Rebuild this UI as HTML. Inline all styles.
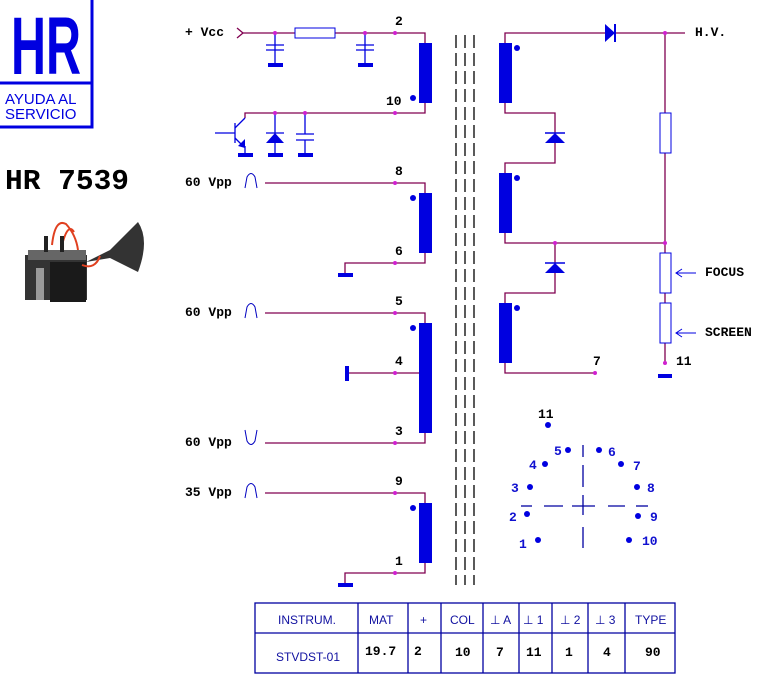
<!DOCTYPE html>
<html><head><style>
body{margin:0;background:#fff;width:766px;height:690px;overflow:hidden}
svg{display:block}
.w{stroke:#800050;stroke-width:1.3;fill:none}
.b{fill:#0000e0}
.t{font-family:"Liberation Mono",monospace;font-weight:bold;font-size:13px;fill:#000}
.p{font-family:"Liberation Mono",monospace;font-weight:bold;font-size:13px;fill:#1010d0}
.s{font-family:"Liberation Sans",sans-serif;font-size:12px;fill:#1010a0}
</style></head><body>
<svg width="766" height="690" xmlns="http://www.w3.org/2000/svg">
<!-- logo -->
<rect x="-2" y="-2" width="94" height="129" fill="none" stroke="#0000e0" stroke-width="3"/>
<line x1="0" y1="83" x2="92" y2="83" stroke="#0000e0" stroke-width="3"/>
<text x="46" y="74" text-anchor="middle" font-family="Liberation Sans,sans-serif" font-weight="bold" font-size="82" fill="#0000e0" textLength="70" lengthAdjust="spacingAndGlyphs">HR</text>
<text x="5" y="104" font-family="Liberation Sans,sans-serif" font-size="15" fill="#0000e0">AYUDA AL</text>
<text x="5" y="119" font-family="Liberation Sans,sans-serif" font-size="15" fill="#0000e0">SERVICIO</text>
<text x="5" y="189" font-family="Liberation Mono,monospace" font-weight="bold" font-size="29" fill="#000" textLength="124" lengthAdjust="spacingAndGlyphs">HR 7539</text>
<!-- photo -->
<path d="M52 245 Q55 218 66 224 Q76 235 78 250" stroke="#e04020" stroke-width="2" fill="none"/>
<path d="M62 245 Q68 222 74 232" stroke="#e04020" stroke-width="2" fill="none"/>
<rect x="25" y="255" width="62" height="45" fill="#333"/>
<rect x="28" y="250" width="58" height="10" fill="#666"/>
<rect x="50" y="262" width="36" height="40" fill="#1a1a1a"/>
<rect x="36" y="268" width="8" height="32" fill="#999"/>
<rect x="44" y="236" width="4" height="16" fill="#222"/>
<rect x="60" y="236" width="4" height="16" fill="#222"/>
<path d="M86 262 L110 250 L138 222 Q150 240 138 272 L110 258 Z" fill="#333"/>
<path d="M82 265 Q95 270 100 256" stroke="#e04020" stroke-width="2" fill="none"/>
<!-- core -->
<g stroke="#000" stroke-width="1.3" stroke-dasharray="13,5">
<line x1="456" y1="35" x2="456" y2="585"/><line x1="465" y1="35" x2="465" y2="585"/><line x1="474" y1="35" x2="474" y2="585"/>
</g>
<!-- primary -->
<text class="t" x="185" y="36">+ Vcc</text>
<path class="w" d="M237 28 L243 33 L237 38"/>
<path class="w" d="M243 33 H295 M335 33 H425 V43 M425 103 V113 H245 V118"/>
<rect x="295" y="28" width="40" height="10" fill="#fff" stroke="#0000e0"/>
<g stroke="#0000e0" stroke-width="1.3"><line x1="275" y1="33" x2="275" y2="65"/><line x1="266" y1="45" x2="284" y2="45"/><line x1="266" y1="50" x2="284" y2="50"/>
<line x1="365" y1="33" x2="365" y2="65"/><line x1="356" y1="45" x2="374" y2="45"/><line x1="356" y1="50" x2="374" y2="50"/>
<line x1="215" y1="133" x2="235" y2="133"/><line x1="235" y1="123" x2="235" y2="143"/><line x1="235" y1="128" x2="245" y2="118"/><line x1="235" y1="138" x2="243" y2="146"/><line x1="245" y1="146" x2="245" y2="155"/>
<line x1="275" y1="113" x2="275" y2="155"/><line x1="266" y1="133" x2="284" y2="133"/>
<line x1="305" y1="113" x2="305" y2="134"/><line x1="305" y1="140" x2="305" y2="155"/><line x1="296" y1="134" x2="314" y2="134"/><line x1="296" y1="140" x2="314" y2="140"/>
</g>
<polygon class="b" points="238,146 245,139 245,148"/>
<polygon class="b" points="275,133 266,143 284,143"/>
<rect class="b" x="268" y="63" width="15" height="4"/><rect class="b" x="358" y="63" width="15" height="4"/>
<rect class="b" x="238" y="153" width="15" height="4"/><rect class="b" x="268" y="153" width="15" height="4"/><rect class="b" x="298" y="153" width="15" height="4"/>
<rect class="b" x="419" y="43" width="13" height="60"/><circle class="b" cx="413" cy="98" r="3"/>
<text class="t" x="395" y="25">2</text><text class="t" x="386" y="105">10</text>
<!-- 8/6 -->
<text class="t" x="185" y="186">60 Vpp</text>
<path d="M245 188 L247 177 Q251 170 255 177 L257 188" stroke="#0000c0" fill="none"/>
<path class="w" d="M265 183 H425 V193 M425 253 V263 H345 V273"/>
<rect class="b" x="419" y="193" width="13" height="60"/><circle class="b" cx="413" cy="198" r="3"/>
<rect class="b" x="338" y="273" width="15" height="4"/>
<text class="t" x="395" y="175">8</text><text class="t" x="395" y="255">6</text>
<!-- 5/4/3 -->
<text class="t" x="185" y="316">60 Vpp</text>
<path d="M245 318 L247 307 Q251 300 255 307 L257 318" stroke="#0000c0" fill="none"/>
<text class="t" x="185" y="446">60 Vpp</text>
<path d="M245 430 L247 441 Q251 448 255 441 L257 430" stroke="#0000c0" fill="none"/>
<path class="w" d="M265 313 H425 V323 M347 373 H425 M265 443 H425 V433"/>
<rect class="b" x="419" y="323" width="13" height="110"/><circle class="b" cx="413" cy="328" r="3"/>
<rect class="b" x="345" y="366" width="4" height="15"/>
<text class="t" x="395" y="305">5</text><text class="t" x="395" y="365">4</text><text class="t" x="395" y="435">3</text>
<!-- 9/1 -->
<text class="t" x="185" y="496">35 Vpp</text>
<path d="M245 498 L247 487 Q251 480 255 487 L257 498" stroke="#0000c0" fill="none"/>
<path class="w" d="M265 493 H425 V503 M425 563 V573 H345 V583"/>
<rect class="b" x="419" y="503" width="13" height="60"/><circle class="b" cx="413" cy="508" r="3"/>
<rect class="b" x="338" y="583" width="15" height="4"/>
<text class="t" x="395" y="485">9</text><text class="t" x="395" y="565">1</text>
<!-- secondary -->
<path class="w" d="M505 43 V33 H685 M505 103 V113 H555 V163 H505 V173 M505 233 V243 H665 M555 243 V293 H505 V303 M505 363 V373 H595 M665 33 V363"/>
<polygon class="b" points="605,24 605,42 615,33"/><line x1="615" y1="24" x2="615" y2="42" stroke="#0000e0" stroke-width="2"/>
<polygon class="b" points="555,133 545,143 565,143"/><line x1="545" y1="133" x2="565" y2="133" stroke="#0000e0" stroke-width="1.5"/>
<polygon class="b" points="555,263 545,273 565,273"/><line x1="545" y1="263" x2="565" y2="263" stroke="#0000e0" stroke-width="1.5"/>
<rect class="b" x="499" y="43" width="13" height="60"/><circle class="b" cx="517" cy="48" r="3"/>
<rect class="b" x="499" y="173" width="13" height="60"/><circle class="b" cx="517" cy="178" r="3"/>
<rect class="b" x="499" y="303" width="13" height="60"/><circle class="b" cx="517" cy="308" r="3"/>
<rect x="660" y="113" width="11" height="40" fill="#fff" stroke="#0000e0"/>
<rect x="660" y="253" width="11" height="40" fill="#fff" stroke="#0000e0"/>
<rect x="660" y="303" width="11" height="40" fill="#fff" stroke="#0000e0"/>
<rect class="b" x="658" y="374" width="14" height="4"/>
<g stroke="#0000e0" fill="none"><path d="M676 273 H696 M682 269 L676 273 L682 277"/><path d="M676 333 H696 M682 329 L676 333 L682 337"/></g>
<text class="t" x="695" y="36">H.V.</text>
<text class="t" x="705" y="276" font-size="12">FOCUS</text>
<text class="t" x="705" y="336" font-size="12">SCREEN</text>
<text class="t" x="593" y="365">7</text><text class="t" x="676" y="365">11</text>
<!-- junction dots -->
<g fill="#d020d0">
<circle cx="275" cy="33" r="2"/><circle cx="365" cy="33" r="2"/><circle cx="395" cy="33" r="2"/>
<circle cx="275" cy="113" r="2"/><circle cx="305" cy="113" r="2"/><circle cx="395" cy="113" r="2"/>
<circle cx="395" cy="183" r="2"/><circle cx="395" cy="263" r="2"/><circle cx="395" cy="313" r="2"/><circle cx="395" cy="373" r="2"/><circle cx="395" cy="443" r="2"/><circle cx="395" cy="493" r="2"/><circle cx="395" cy="573" r="2"/>
<circle cx="665" cy="33" r="2"/><circle cx="555" cy="243" r="2"/><circle cx="665" cy="243" r="2"/><circle cx="595" cy="373" r="2"/><circle cx="665" cy="363" r="2"/>
</g>
<!-- pin diagram -->
<g stroke="#0000a0" stroke-width="1.3">
<line x1="583" y1="445" x2="583" y2="457"/><line x1="583" y1="465" x2="583" y2="487"/><line x1="583" y1="495" x2="583" y2="515"/><line x1="583" y1="527" x2="583" y2="548"/>
<line x1="521" y1="506" x2="532" y2="506"/><line x1="544" y1="506" x2="563" y2="506"/><line x1="572" y1="506" x2="595" y2="506"/><line x1="608" y1="506" x2="625" y2="506"/><line x1="636" y1="506" x2="648" y2="506"/>
</g>
<g class="b">
<circle cx="548" cy="425" r="3"/><circle cx="568" cy="450" r="3"/><circle cx="599" cy="450" r="3"/><circle cx="545" cy="464" r="3"/><circle cx="621" cy="464" r="3"/><circle cx="530" cy="487" r="3"/><circle cx="637" cy="487" r="3"/><circle cx="527" cy="514" r="3"/><circle cx="638" cy="516" r="3"/><circle cx="538" cy="540" r="3"/><circle cx="629" cy="540" r="3"/>
</g>
<text class="t" x="538" y="418">11</text>
<text class="p" x="554" y="455">5</text><text class="p" x="608" y="456">6</text><text class="p" x="529" y="469">4</text><text class="p" x="633" y="470">7</text>
<text class="p" x="511" y="492">3</text><text class="p" x="647" y="492">8</text><text class="p" x="509" y="521">2</text><text class="p" x="650" y="521">9</text>
<text class="p" x="519" y="548">1</text><text class="p" x="642" y="545">10</text>
<!-- table -->
<g stroke="#0000a0" stroke-width="1.3" fill="none">
<rect x="255" y="603" width="420" height="70"/><line x1="255" y1="633" x2="675" y2="633"/>
<line x1="358" y1="603" x2="358" y2="673"/><line x1="408" y1="603" x2="408" y2="673"/><line x1="441" y1="603" x2="441" y2="673"/><line x1="483" y1="603" x2="483" y2="673"/><line x1="519" y1="603" x2="519" y2="673"/><line x1="552" y1="603" x2="552" y2="673"/><line x1="588" y1="603" x2="588" y2="673"/><line x1="625" y1="603" x2="625" y2="673"/>
</g>
<g class="s">
<text x="278" y="624">INSTRUM.</text><text x="369" y="624">MAT</text><text x="420" y="624">+</text><text x="450" y="624">COL</text><text x="490" y="624">⊥ A</text><text x="523" y="624">⊥ 1</text><text x="560" y="624">⊥ 2</text><text x="595" y="624">⊥ 3</text><text x="635" y="624">TYPE</text>
<text x="276" y="661">STVDST-01</text>
</g>
<g class="t">
<text x="365" y="655">19.7</text><text x="414" y="655">2</text><text x="455" y="656">10</text><text x="496" y="656">7</text><text x="526" y="656">11</text><text x="565" y="656">1</text><text x="603" y="656">4</text><text x="645" y="656">90</text>
</g>
</svg>
</body></html>
